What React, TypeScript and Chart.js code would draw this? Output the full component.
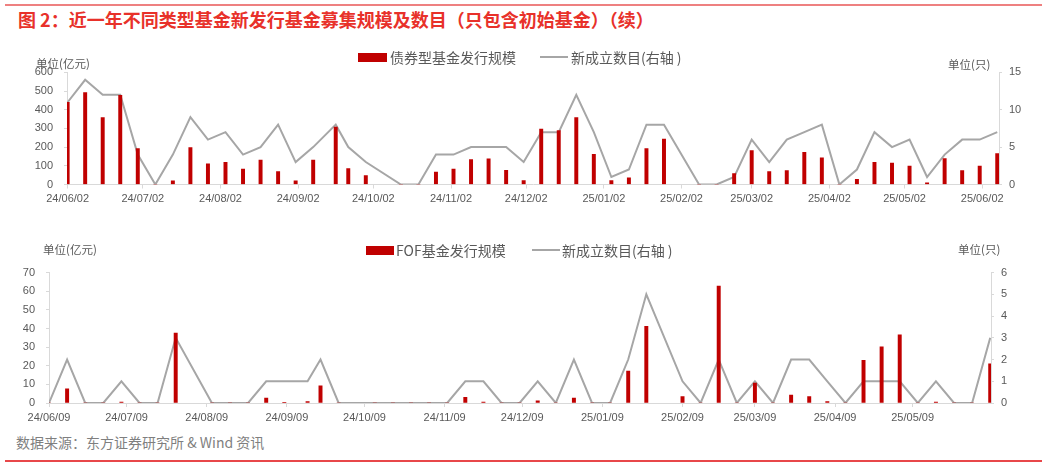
import React, { useEffect, useRef } from 'react';
import { Chart, registerables } from 'chart.js';
Chart.register(...registerables);

// ---------- Top chart: 债券型基金 ----------
const bondDates = [
  '2024-06-02', '2024-06-09', '2024-06-16', '2024-06-23', '2024-06-30',
  '2024-07-07', '2024-07-14', '2024-07-21', '2024-07-28',
  '2024-08-04', '2024-08-11', '2024-08-18', '2024-08-25',
  '2024-09-01', '2024-09-08', '2024-09-17', '2024-09-22', '2024-09-29',
  '2024-10-13', '2024-10-20', '2024-10-27',
  '2024-11-03', '2024-11-10', '2024-11-17', '2024-11-24',
  '2024-12-01', '2024-12-08', '2024-12-15', '2024-12-22', '2024-12-29',
  '2025-01-05', '2025-01-12', '2025-01-19', '2025-01-26',
  '2025-02-09', '2025-02-16', '2025-02-23',
  '2025-03-02', '2025-03-09', '2025-03-16', '2025-03-23', '2025-03-30',
  '2025-04-06', '2025-04-13', '2025-04-20', '2025-04-27',
  '2025-05-04', '2025-05-11', '2025-05-18', '2025-05-25',
  '2025-06-01', '2025-06-08',
];
const bondIssue = [
  440, 492, 358, 477, 192,
  0, 20, 197, 110,
  119, 83, 131, 69,
  20, 130, 307, 85, 48,
  0, 0, 66,
  82, 133, 137, 76,
  21, 296, 289, 358, 162,
  21, 36, 192, 243,
  0, 0, 59,
  181, 69, 75, 172, 142,
  0, 28, 119, 115,
  98, 9, 138, 75,
  98, 165,
];
const bondCount = [
  11, 14, 12, 12, 4,
  0, 4, 9, 6,
  7, 4, 5, 8,
  3, 5, 8, 5, 3,
  0, 0, 4,
  4, 5, 5, 5,
  3, 7, 7, 12, 7,
  1, 2, 8, 8,
  0, 0, 1,
  6, 3, 6, 7, 8,
  0, 2, 7, 5,
  6, 1, 4, 6,
  6, 7,
];
const bondTicks = [
  '24/06/02', '24/07/02', '24/08/02', '24/09/02', '24/10/02', '24/11/02', '24/12/02',
  '25/01/02', '25/02/02', '25/03/02', '25/04/02', '25/05/02', '25/06/02',
];

// ---------- Bottom chart: FOF基金 ----------
const fofDates = [
  '2024-06-09', '2024-06-16', '2024-06-23', '2024-06-30',
  '2024-07-07', '2024-07-14', '2024-07-21', '2024-07-28',
  '2024-08-11', '2024-08-18', '2024-08-25',
  '2024-09-01', '2024-09-08', '2024-09-17', '2024-09-22', '2024-09-29',
  '2024-10-13', '2024-10-20', '2024-10-27',
  '2024-11-03', '2024-11-10', '2024-11-17', '2024-11-24',
  '2024-12-01', '2024-12-08', '2024-12-15', '2024-12-22', '2024-12-29',
  '2025-01-05', '2025-01-12', '2025-01-19', '2025-01-26',
  '2025-02-09', '2025-02-16', '2025-02-23',
  '2025-03-02', '2025-03-09', '2025-03-16', '2025-03-23', '2025-03-30',
  '2025-04-06', '2025-04-13', '2025-04-20', '2025-04-27',
  '2025-05-04', '2025-05-11', '2025-05-18', '2025-05-25',
  '2025-06-01', '2025-06-08',
];
const fofIssue = [
  0, 7.6, 0, 0,
  0.5, 0, 0, 37.6,
  0, 0, 0,
  2.7, 0.3, 0.8, 9.2, 0,
  0, 0, 0,
  0, 0, 3.1, 0.5,
  0, 0, 1.2, 0, 2.7,
  0, 0, 17.1, 41.2,
  3.4, 0, 62.7,
  0, 10.7, 0, 4.2, 3.4,
  0.7, 0, 22.9, 30.2,
  36.6, 0, 0.5, 0,
  0, 21,
];
const fofCount = [
  0, 2, 0, 0,
  1, 0, 0, 3,
  0, 0, 0,
  1, 1, 1, 2, 0,
  0, 0, 0,
  0, 0, 1, 1,
  0, 0, 1, 0, 2,
  0, 0, 2, 5,
  1, 0, 2,
  0, 1, 0, 2, 2,
  1, 0, 1, 1,
  1, 0, 1, 0,
  0, 3,
];
const fofTicks = [
  '24/06/09', '24/07/09', '24/08/09', '24/09/09', '24/10/09', '24/11/09',
  '24/12/09', '25/01/09', '25/02/09', '25/03/09', '25/04/09', '25/05/09',
];

const FONT = "'Liberation Sans', 'Noto Sans CJK SC', sans-serif";
const CJK = "'Noto Sans CJK SC', 'Liberation Sans', sans-serif";
const TEXT = '#595959';
const AXIS = '#D9D9D9';
const RED = '#C00000';
const GREY = '#A6A6A6';

const dayNum = (iso: string) => {
  const [y, m, d] = iso.split('-').map(Number);
  return Date.UTC(y, m - 1, d) / 86400000;
};
const tickIso = (t: string) => '20' + t.split('/').join('-');

interface Spec {
  dates: string[]; issue: number[]; count: number[]; ticks: string[];
  barLabel: string; xMin: number; xMax: number;
  leftMax: number; leftStep: number; rightMax: number; rightStep: number;
  leftW: number; rightW: number; xH: number; padTop: number;
}

function buildConfig(s: Spec): any {
  const base = dayNum(s.dates[0]);
  const xs = s.dates.map((d) => dayNum(d) - base);
  const tickVals = s.ticks.map((t) => dayNum(tickIso(t)) - base);
  const tickFont = { family: FONT, size: 11 };
  return {
    type: 'bar',
    data: {
      datasets: [
        {
          type: 'bar',
          label: s.barLabel,
          data: xs.map((x, i) => ({ x, y: s.issue[i] })),
          backgroundColor: RED,
          barThickness: 3.3,
          yAxisID: 'y',
          order: 0,
        },
        {
          type: 'line',
          label: '新成立数目(右轴 )',
          data: xs.map((x, i) => ({ x, y: s.count[i] })),
          borderColor: GREY,
          backgroundColor: GREY,
          borderWidth: 2,
          pointRadius: 0,
          tension: 0,
          yAxisID: 'y1',
          order: 1,
        },
      ],
    },
    options: {
      animation: false,
      responsive: false,
      maintainAspectRatio: false,
      layout: { padding: { top: s.padTop, left: 0, right: 0, bottom: 0 } },
      plugins: { legend: { display: false }, tooltip: { enabled: false } },
      scales: {
        x: {
          type: 'linear',
          min: s.xMin,
          max: s.xMax,
          offset: false,
          grid: { display: true, offset: false, drawOnChartArea: false, drawTicks: true, tickLength: 4, color: AXIS },
          border: { display: true, color: AXIS, width: 1 },
          afterBuildTicks: (sc: any) => {
            sc.ticks = tickVals.map((v) => ({ value: v }));
          },
          afterFit: (sc: any) => { sc.height = s.xH; },
          ticks: {
            autoSkip: false,
            maxRotation: 0,
            minRotation: 0,
            padding: 4,
            color: TEXT,
            font: tickFont,
            callback: (_v: any, i: number) => s.ticks[i],
          },
        },
        y: {
          position: 'left',
          min: 0,
          max: s.leftMax,
          grid: { display: true, drawOnChartArea: false, drawTicks: true, tickLength: 3, color: AXIS },
          border: { display: true, color: AXIS, width: 1 },
          afterFit: (sc: any) => { sc.width = s.leftW; },
          ticks: { stepSize: s.leftStep, padding: 11, color: TEXT, font: tickFont },
        },
        y1: {
          position: 'right',
          min: 0,
          max: s.rightMax,
          grid: { display: true, drawOnChartArea: false, drawTicks: true, tickLength: 3, color: AXIS },
          border: { display: true, color: AXIS, width: 1 },
          afterFit: (sc: any) => { sc.width = s.rightW; },
          ticks: { stepSize: s.rightStep, padding: 7, color: TEXT, font: tickFont },
        },
      },
    },
  };
}

const abs = (left: number, top: number, extra: React.CSSProperties = {}): React.CSSProperties => ({
  position: 'absolute', left, top, ...extra,
});

const legendText = (left: number, top: number, text: string) => (
  <div style={abs(left, top, { fontFamily: CJK, fontSize: 14, lineHeight: '14px', color: TEXT, whiteSpace: 'pre' })}>{text}</div>
);
const unitText = (left: number, top: number, text: string) => (
  <div style={abs(left, top, { fontFamily: CJK, fontSize: 11.5, lineHeight: '12px', color: TEXT, whiteSpace: 'pre' })}>{text}</div>
);

export default function App() {
  const topRef = useRef<HTMLCanvasElement | null>(null);
  const botRef = useRef<HTMLCanvasElement | null>(null);

  useEffect(() => {
    const c1 = new Chart(topRef.current as HTMLCanvasElement, buildConfig({
      dates: bondDates, issue: bondIssue, count: bondCount, ticks: bondTicks,
      barLabel: '债券型基金发行规模', xMin: -0.25, xMax: 371.7,
      leftMax: 600, leftStep: 100, rightMax: 15, rightStep: 5,
      leftW: 67, rightW: 43, xH: 30.5, padTop: 22.3,
    }));
    const c2 = new Chart(botRef.current as HTMLCanvasElement, buildConfig({
      dates: fofDates, issue: fofIssue, count: fofCount, ticks: fofTicks,
      barLabel: 'FOF基金发行规模', xMin: 0, xMax: 364.3,
      leftMax: 70, leftStep: 10, rightMax: 6, rightStep: 1,
      leftW: 49, rightW: 51, xH: 27, padTop: 10,
    }));
    return () => { c1.destroy(); c2.destroy(); };
  }, []);

  return (
    <div style={{ position: 'absolute', left: 0, top: 0, width: 1042, height: 465, background: '#fff', overflow: 'hidden' }}>
      <div style={abs(5, 4, { width: 1037, height: 2, background: '#EE8080' })} />
      <div style={abs(18, 9, { fontFamily: CJK, fontSize: 18, lineHeight: '20px', color: '#E8312A', fontWeight: 700, whiteSpace: 'pre' })}>
        图 2：近一年不同类型基金新发行基金募集规模及数目（只包含初始基金）（续）
      </div>

      <canvas ref={topRef} width={1042} height={165} style={abs(0, 50, { width: 1042, height: 165 })} />
      <canvas ref={botRef} width={1042} height={175} style={abs(0, 255, { width: 1042, height: 175 })} />

      {/* top legend */}
      <div style={abs(358, 52.5, { width: 29, height: 9, background: RED })} />
      {legendText(390, 50, '债券型基金发行规模')}
      <div style={abs(540, 56, { width: 28, height: 2, background: GREY })} />
      {legendText(571, 50, '新成立数目(右轴 )')}
      {unitText(36, 57, '单位(亿元)')}
      {unitText(948, 58, '单位(只)')}

      {/* bottom legend */}
      <div style={abs(366, 245.5, { width: 28, height: 9, background: RED })} />
      {legendText(396, 243, 'FOF基金发行规模')}
      <div style={abs(532, 249, { width: 28, height: 2, background: GREY })} />
      {legendText(562, 243, '新成立数目(右轴 )')}
      {unitText(43, 243, '单位(亿元)')}
      {unitText(958, 243, '单位(只)')}

      <div style={abs(16, 435, { fontFamily: CJK, fontSize: 14, lineHeight: '14px', color: '#7F7F7F', whiteSpace: 'pre' })}>
        数据来源：东方证券研究所 &amp; Wind 资讯
      </div>
      <div style={abs(5, 460, { width: 1037, height: 2, background: '#E8474A' })} />
    </div>
  );
}
